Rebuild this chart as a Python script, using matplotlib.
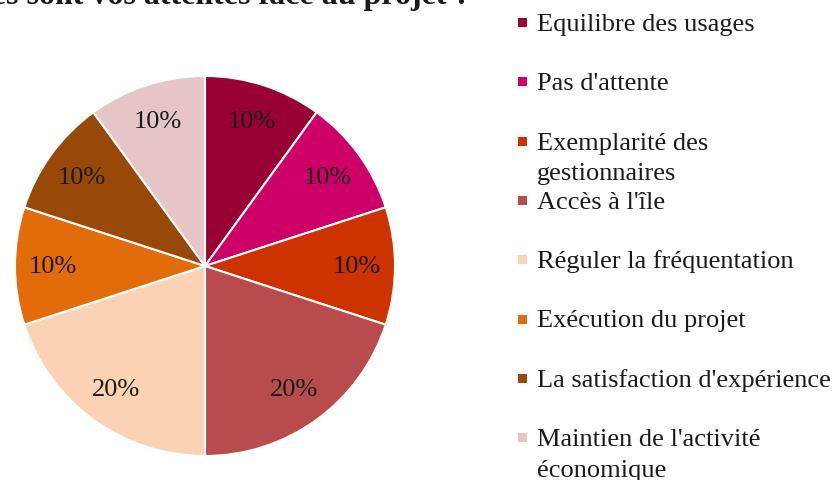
import matplotlib.pyplot as plt
from matplotlib.patches import Rectangle

# données
categories = ["Equilibre des usages", "Pas d'attente", "Exemplarité des\ngestionnaires",
              "Accès à l'île", "Réguler la fréquentation", "Exécution du projet",
              "La satisfaction d'expérience", "Maintien de l'activité\néconomique"]
values = [10, 10, 10, 20, 20, 10, 10, 10]
colors = ["#990033", "#CC0066", "#CC3300", "#B84C4C", "#FBD3B4", "#E36C0A", "#984807", "#E6C5C7"]
title = "Quelles sont vos attentes face au projet ?"

plt.rcParams['font.family'] = ['Liberation Serif', 'DejaVu Serif']

W, H = 834, 481
fig = plt.figure(figsize=(W / 100, H / 100), dpi=100)

# pie: centre (205, 267), rayon 190 px
cx, cy, r = 205, 267, 190
ax = fig.add_axes([(cx - r) / W, (H - cy - r) / H, 2 * r / W, 2 * r / H])
ax.pie(values, colors=colors, startangle=90, counterclock=False,
       autopct='%1.0f%%', pctdistance=0.8,
       wedgeprops=dict(edgecolor='white', linewidth=1.5),
       textprops=dict(fontsize=19, color='#1a1a1a'))
ax.set_xlim(-1, 1)
ax.set_ylim(-1, 1)
ax.set_aspect('equal')
ax.axis('off')

# titre (coupé en haut, comme sur l'original)
fig.text(470 / W, 1 - 4 / H, title, ha='right', va='baseline',
         fontsize=23, fontweight='bold', color='#1a1a1a')

# légende
y0, step, line_h = 31, 59.3, 30.5
for i, (lab, col) in enumerate(zip(categories, colors)):
    yb = y0 + i * step
    fig.patches.append(Rectangle((518 / W, 1 - (yb - 3) / H), 9 / W, 9 / H,
                                 transform=fig.transFigure, facecolor=col,
                                 edgecolor='none'))
    for k, line in enumerate(lab.split('\n')):
        fig.text(537 / W, 1 - (yb + k * line_h) / H, line, ha='left', va='baseline',
                 fontsize=19, color='#1a1a1a')

fig.savefig('out.png', dpi=100)
